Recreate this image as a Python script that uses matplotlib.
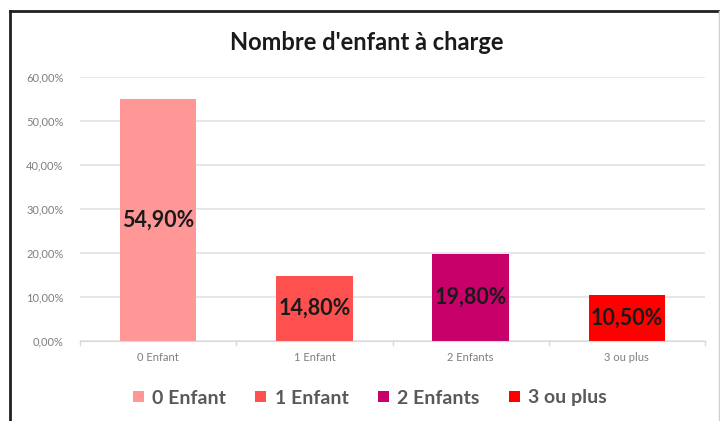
import matplotlib.pyplot as plt
from matplotlib.lines import Line2D
from matplotlib.patches import Patch

# ---
# data
# ---
categories = ["0 Enfant", "1 Enfant", "2 Enfants", "3 ou plus"]
values = [54.90, 14.80, 19.80, 10.50]
labels = ["54,90%", "14,80%", "19,80%", "10,50%"]
colors = ["#FF9797", "#FF5050", "#C8006A", "#FF0000"]
y_ticks = [0, 10, 20, 30, 40, 50, 60]
y_tick_labels = ["0,00%", "10,00%", "20,00%", "30,00%", "40,00%", "50,00%", "60,00%"]
title = "Nombre d'enfant à charge"

plt.rcParams["font.family"] = ["Lato", "DejaVu Sans"]

W, H = 720, 421
fig = plt.figure(figsize=(W / 100, H / 100), dpi=100)
ax = fig.add_axes([80 / W, 1 - 341 / H, 625 / W, (341 - 77) / H])

x = list(range(len(categories)))
ax.bar(x, values, width=0.49, color=colors, zorder=3)

# value labels centred in the bars
for xi, v, lab in zip(x, values, labels):
    ax.text(xi, v / 2, lab, ha="center", va="center", fontsize=15.5,
            fontweight="bold", color="#1a1a1a", zorder=4)

ax.set_xlim(-0.5, len(categories) - 0.5)
ax.set_ylim(0, 60)
ax.set_yticks(y_ticks)
ax.set_yticklabels(y_tick_labels, fontsize=8, color="#7f7f7f")
ax.set_xticks(x)
ax.set_xticklabels(categories, fontsize=8, color="#7f7f7f")
ax.tick_params(axis="both", length=0, pad=8)
ax.tick_params(axis="y", pad=12)
ax.yaxis.grid(True, color="#e3e3e3", linewidth=1.2, zorder=0)
for side in ["top", "right", "left"]:
    ax.spines[side].set_visible(False)
ax.spines["bottom"].set_color("#d9d9d9")
ax.spines["bottom"].set_zorder(5)

# small category separator ticks below axis
for b in [-0.5, 0.5, 1.5, 2.5, 3.5]:
    ax.plot([b, b], [0, -0.8], color="#d9d9d9", linewidth=1, clip_on=False)

fig.text(367 / W, 1 - 43 / H, title, ha="center", va="center",
         fontsize=17, fontweight="bold", color="#1a1a1a")

handles = [Patch(facecolor=c, edgecolor="none") for c in colors]
fig.legend(handles, categories, loc="center", bbox_to_anchor=(370 / W, 1 - 398 / H),
           ncol=4, frameon=False, handlelength=0.55, handleheight=0.55,
           handletextpad=0.45, columnspacing=1.5, labelcolor="#595959",
           prop={"weight": "bold", "size": 14})

# chart border
fig.add_artist(Line2D([9.5 / W, 9.5 / W], [0, 1 - 11 / H], color="#202020", linewidth=2))
fig.add_artist(Line2D([9.5 / W, 1], [1 - 11 / H, 1 - 11 / H], color="#202020", linewidth=2))
fig.add_artist(Line2D([718.5 / W, 718.5 / W], [0, 1 - 11 / H], color="#d0d0d0", linewidth=1))

fig.savefig("out.png", dpi=100)
